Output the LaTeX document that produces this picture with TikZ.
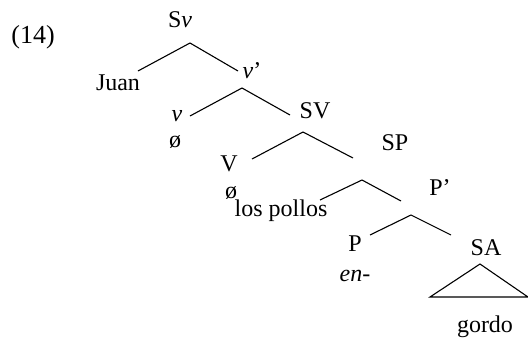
\documentclass[tikz,border=0pt]{standalone}
\usepackage{fontspec}
\setmainfont{Liberation Serif}
\begin{document}
\begin{tikzpicture}[x=1pt,y=-1pt,
  lab/.style={inner sep=0pt, anchor=base, font=\fontsize{24}{28}\selectfont},
  branch/.style={line width=1.1pt}]
\useasboundingbox (0,0) rectangle (528,338);
% labels
\node[lab, font=\fontsize{26}{30}\selectfont] (ex) at (33,43.5) {(14)};
\node[lab] (sv) at (180,27) {S\textit{v}};
\node[lab] (juan) at (118,90) {Juan};
\node[lab] (vbar) at (252,78) {\textit{v}’};
\node[lab] (v) at (177,121) {\textit{v}};
\node[lab] (null1) at (175,147) {ø};
\node[lab] (svp) at (315,118) {SV};
\node[lab] (V) at (229,171) {V};
\node[lab] (null2) at (231,198) {ø};
\node[lab] (sp) at (395,150) {SP};
\node[lab] (lp) at (281,216) {los pollos};
\node[lab] (pbar) at (440,195) {P’};
\node[lab] (P) at (355,251) {P};
\node[lab] (en) at (355,281) {\textit{en-}};
\node[lab] (sa) at (486,255) {SA};
\node[lab] (gordo) at (485,332) {gordo};
% branch points
\coordinate (a1) at (190,43);
\coordinate (a1l) at (138,71);
\coordinate (a1r) at (238,71);
\coordinate (a2) at (242,88);
\coordinate (a2l) at (190,116);
\coordinate (a2r) at (290,115);
\coordinate (a3) at (303,132);
\coordinate (a3l) at (252,159);
\coordinate (a3r) at (353,158);
\coordinate (a4) at (362,180);
\coordinate (a4l) at (320,200);
\coordinate (a4r) at (401,201);
\coordinate (a5) at (411,215);
\coordinate (a5l) at (370,235);
\coordinate (a5r) at (451,235);
\coordinate (t1) at (480,264);
\coordinate (t1l) at (430,297);
\coordinate (t1r) at (528,297);
% branches
\draw[branch] (a1l) -- (a1) -- (a1r);
\draw[branch] (a2l) -- (a2) -- (a2r);
\draw[branch] (a3l) -- (a3) -- (a3r);
\draw[branch] (a4l) -- (a4) -- (a4r);
\draw[branch] (a5l) -- (a5) -- (a5r);
\draw[branch] (t1l) -- (t1) -- (t1r) -- cycle;
\end{tikzpicture}
\end{document}
